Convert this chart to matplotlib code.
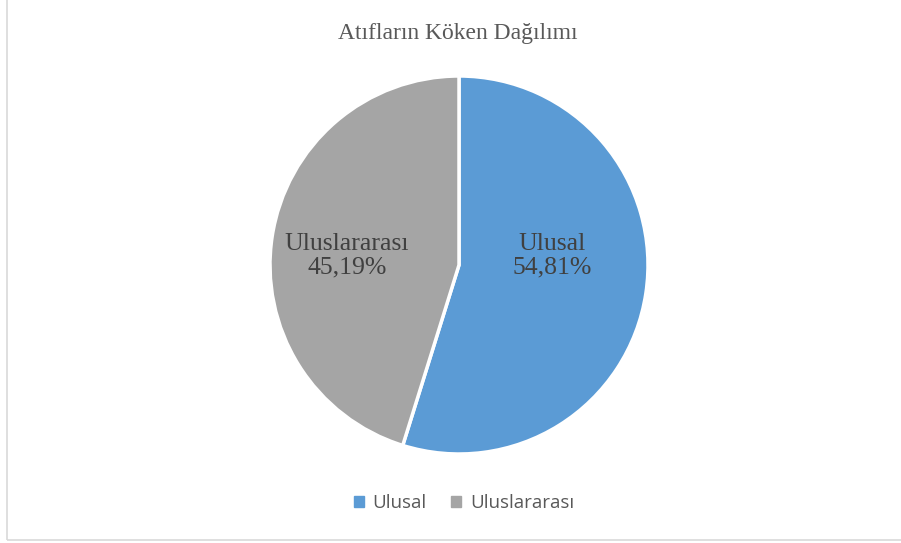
import numpy as np
import matplotlib.pyplot as plt
from matplotlib.patches import Patch, Rectangle

labels = ["Ulusal", "Uluslararası"]
values = [54.81, 45.19]
colors = ["#5B9BD5", "#A5A5A5"]
title = "Atıfların Köken Dağılımı"

W, H = 901, 543
fig = plt.figure(figsize=(W / 100, H / 100), dpi=100)

# chart border (left/bottom visible)
fig.patches.append(Rectangle((7 / W, 1 - 540 / H), (W - 4) / W, 540 / H + 0.01,
                             transform=fig.transFigure, fill=False,
                             edgecolor="#D9D9D9", lw=1.2))

ax = fig.add_axes([270 / W, (H - 454) / H, 378 / W, 378 / H])
wedges, _ = ax.pie(values, colors=colors, startangle=90, counterclock=False,
                   radius=1, wedgeprops=dict(edgecolor="white", linewidth=2.5))
ax.set_xlim(-1, 1)
ax.set_ylim(-1, 1)
ax.set_aspect("equal")
ax.axis("off")

# label distance from centre (Excel "best fit" placement)
label_dist = [0.5, 0.6]
for w, lab, v, d in zip(wedges, labels, values, label_dist):
    mid = np.deg2rad((w.theta1 + w.theta2) / 2)
    x = d * np.cos(mid)
    ax.text(x, 0.05, f"{lab}\n{v:.2f}%".replace(".", ","), ha="center", va="center",
            fontsize=18.5, family="Liberation Serif", color="#404040", linespacing=1.05)

fig.text(458 / W, 1 - 33 / H, title, ha="center", va="center",
         fontsize=17, family="Liberation Serif", color="#595959")

handles = [Patch(facecolor=c, edgecolor=c) for c in colors]
fig.legend(handles, labels, loc="center", bbox_to_anchor=(464 / W, 1 - 503 / H),
           ncol=2, frameon=False, handlelength=0.55, handleheight=0.55,
           handletextpad=0.45, columnspacing=1.3,
           prop=dict(family="Open Sans", size=13.5), labelcolor="#595959")

fig.savefig("out.png", dpi=100)
